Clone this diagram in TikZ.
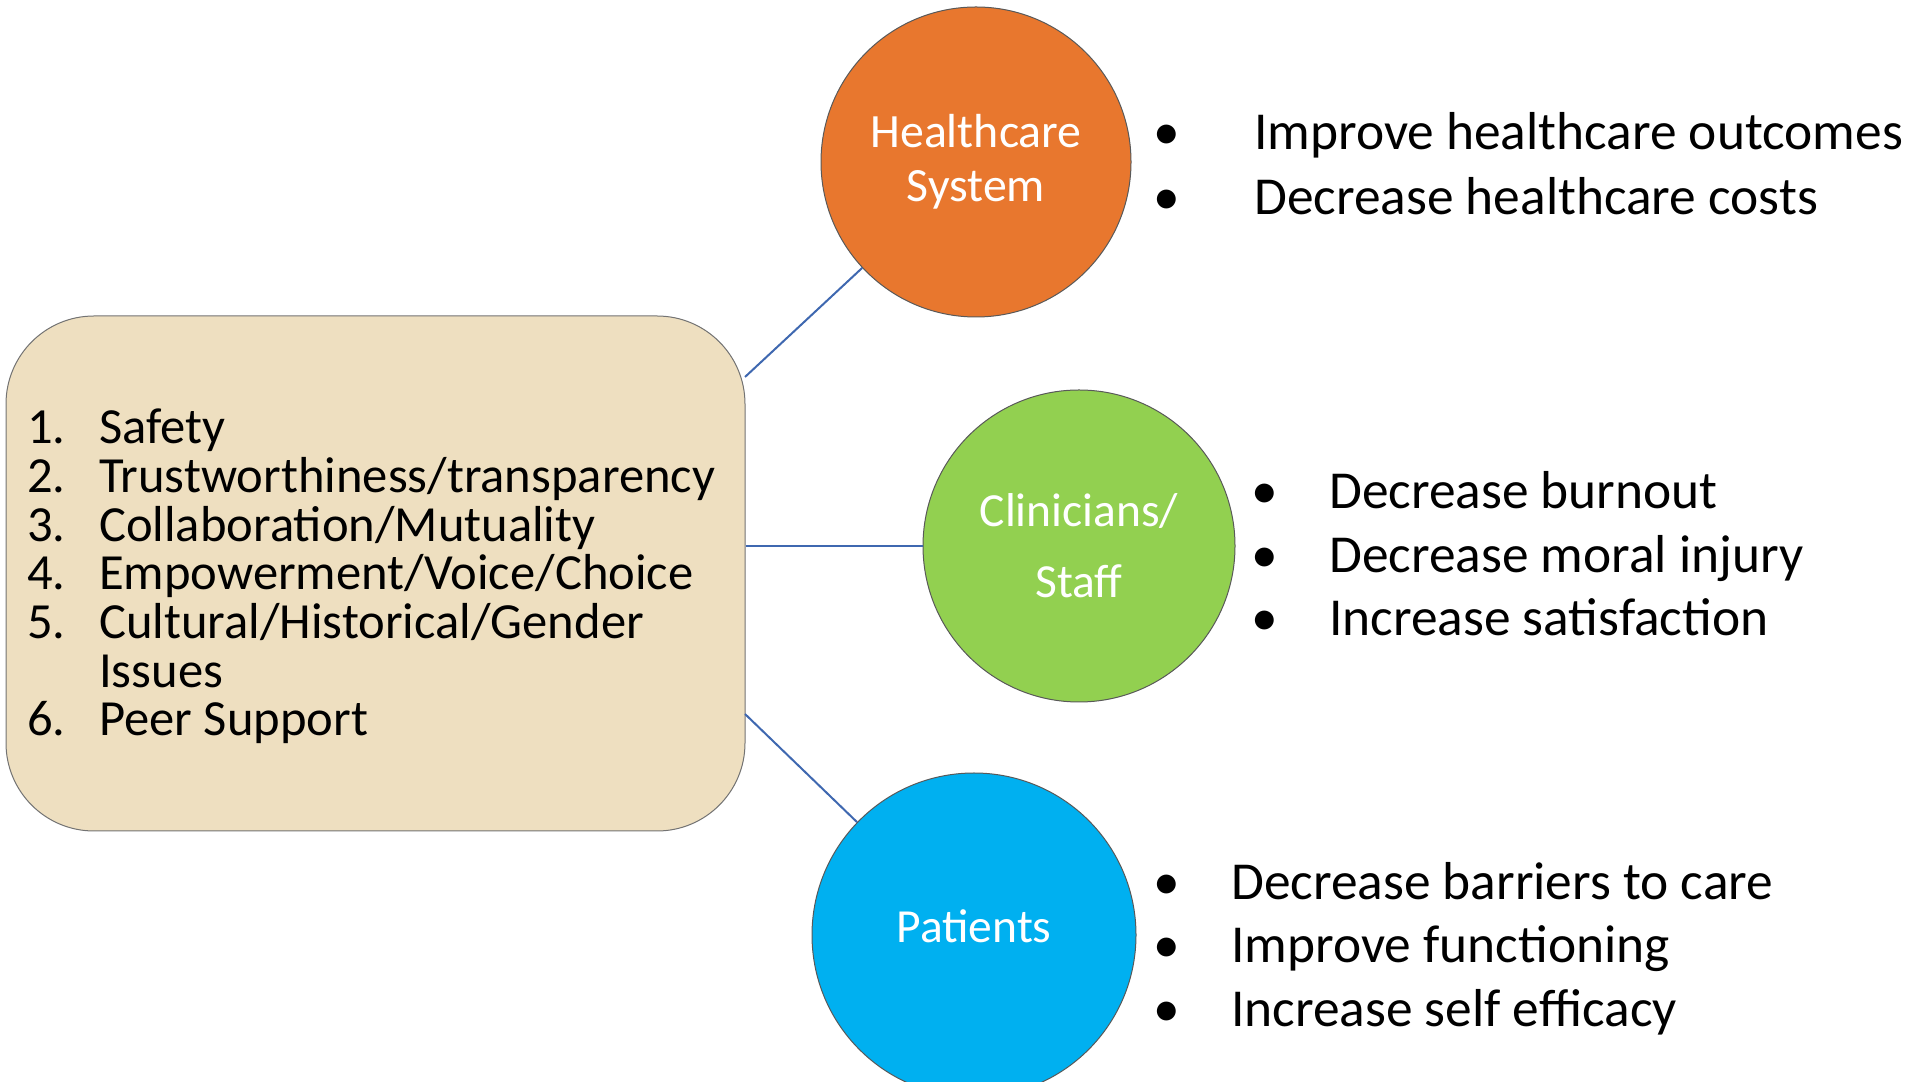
\documentclass[tikz,border=0pt]{standalone}
\usepackage{fontspec}
\setmainfont{Carlito}
\usepackage{tikz}
\usetikzlibrary{positioning}

\definecolor{boxtan}{HTML}{EEDFC0}
\definecolor{hcorange}{HTML}{E8772E}
\definecolor{staffgreen}{HTML}{92D050}
\definecolor{patblue}{HTML}{00B0F0}
\definecolor{linkblue}{HTML}{3F68B0}

\begin{document}
\begin{tikzpicture}[scale=1,
	principle/.style={anchor=base west,inner sep=0pt,font=\fontsize{50.6}{48}\selectfont},
	goal/.style={anchor=base west,inner sep=0pt,font=\fontsize{53.4}{64}\selectfont},
	group/.style={circle,draw=black!65,line width=1pt,text=white,align=center,inner sep=0pt},
	link/.style={draw=linkblue,line width=2pt}]

	\useasboundingbox (0pt,0pt) rectangle (1921pt,1081pt);

	% principles box
	\node[draw=black!55,fill=boxtan,line width=1pt,rounded corners=88pt,minimum width=739pt,minimum height=515pt] (box) at (375.5pt,507.5pt){};
	\node[principle] (p1) at (27pt,637pt){\makebox[72pt][l]{1.}Safety};
	\node[principle] (p2) at (27pt,588pt){\makebox[72pt][l]{2.}Trustworthiness/transparency};
	\node[principle] (p3) at (27pt,539pt){\makebox[72pt][l]{3.}Collaboration/Mutuality};
	\node[principle] (p4) at (27pt,491pt){\makebox[72pt][l]{4.}Empowerment/Voice/Choice};
	\node[principle] (p5) at (27pt,442pt){\makebox[72pt][l]{5.}Cultural/Historical/Gender};
	\node[principle] (p5b) at (27pt,393pt){\makebox[72pt][l]{}Issues};
	\node[principle] (p6) at (27pt,345pt){\makebox[72pt][l]{6.}Peer Support};

	% the three groups
	\node[group,fill=hcorange,minimum size=310pt,font=\fontsize{47.8}{54}\selectfont] (hc) at (976pt,919pt){Healthcare\\System};
	\node[group,fill=staffgreen,minimum size=312pt,font=\fontsize{47.5}{71}\selectfont] (cs) at (1079pt,535pt){Clinicians/\\Staff};
	\node[group,fill=patblue,minimum size=324pt,text depth=17pt,font=\fontsize{47.5}{54}\selectfont] (pt) at (974pt,146pt){Patients};

	% connectors
	\coordinate (t1) at (745pt,704pt);
	\coordinate (t2) at (box.east |- cs);
	\coordinate (t3) at (745pt,367pt);
	\draw[link] (t1)--(hc);
	\draw[link] (t2)--(cs);
	\draw[link] (t3)--(pt);

	% outcomes
	\node[goal] (h1) at (1153pt,931pt){\makebox[101pt][l]{\textbullet}Improve healthcare outcomes};
	\node[goal] (h2) at (1153pt,866pt){\makebox[101pt][l]{\textbullet}Decrease healthcare costs};

	\node[goal] (c1) at (1251pt,572pt){\makebox[78pt][l]{\textbullet}Decrease burnout};
	\node[goal] (c2) at (1251pt,508pt){\makebox[78pt][l]{\textbullet}Decrease moral injury};
	\node[goal] (c3) at (1251pt,445pt){\makebox[78pt][l]{\textbullet}Increase satisfaction};

	\node[goal] (q1) at (1153pt,181pt){\makebox[78pt][l]{\textbullet}Decrease barriers to care};
	\node[goal] (q2) at (1153pt,118pt){\makebox[78pt][l]{\textbullet}Improve functioning};
	\node[goal] (q3) at (1153pt,54pt){\makebox[78pt][l]{\textbullet}Increase self efficacy};
\end{tikzpicture}
\end{document}
